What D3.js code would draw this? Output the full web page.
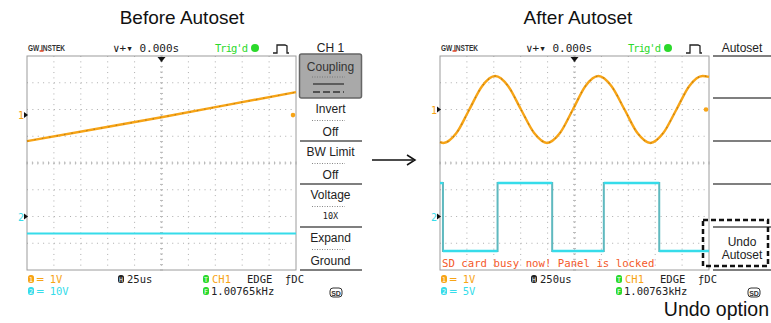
<!DOCTYPE html>
<html>
<head>
<meta charset="utf-8">
<script src="https://cdn.jsdelivr.net/npm/d3@7"></script>
<style>
body { margin: 0; background: #fff; }
text { font-family: "Liberation Sans", Arial, sans-serif; }
.mono { font-family: "DejaVu Sans Mono", monospace; }
</style>
</head>
<body>
<div id="chart"></div>
<script>
var svgWidth = 771;
var svgHeight = 323;

// panel titles
var titles = ["Before Autoset", "After Autoset"];

// traces, x in divisions (0..10), y in divisions relative to channel ground
var beforeCh1 = [[0, -0.97], [2.5, -0.53], [5, -0.08], [7.5, 0.39], [10, 0.86]];
var beforeCh2 = [[0, -0.64], [10, -0.64]];
var afterCh1 = [[0, -1.22], [0.13, -1.25], [0.61, -0.88], [1.09, 0], [1.57, 0.88], [2.05, 1.25],
                [2.53, 0.88], [3.01, 0], [3.5, -0.88], [3.98, -1.25], [4.46, -0.88], [4.94, 0],
                [5.41, 0.88], [5.89, 1.25], [6.37, 0.88], [6.86, 0], [7.34, -0.88], [7.82, -1.25],
                [8.3, -0.88], [8.79, 0], [9.27, 0.88], [9.76, 1.25], [10, 1.22]];
var afterCh2 = [[0, 1.25], [0.11, -1.29], [2.14, 1.25], [4.17, -1.29], [6.09, 1.25], [8.15, -1.29], [10, -1.29]];

// channel ground positions (divisions)
var beforeGround = [1.79, -2];
var afterGround = [2, -2];

// side menus
var beforeMenu = [["Invert", "Off"], ["BW Limit", "Off"], ["Voltage", "10X"], ["Expand", "Ground"]];
var afterMenu = [["", ""], ["", ""], ["", ""], ["", ""], ["Undo", "Autoset"]];

// status bar
var beforeVolts = ["1V", "10V"];
var afterVolts = ["1V", "5V"];
var beforeTime = "25us";
var afterTime = "250us";
var beforeFreq = "1.00765kHz";
var afterFreq = "1.00763kHz";

var orange = "#f7a416";
var cyan = "#36dcea";
var green = "#2bd92b";

var svg = d3.select("#chart")
    .append("svg")
    .attr("width", svgWidth)
    .attr("height", svgHeight);

svg.selectAll(".title")
    .data(titles)
    .enter()
    .append("text")
    .attr("x", (d, i) => i == 0 ? 182 : 578)
    .attr("y", 24)
    .attr("text-anchor", "middle")
    .attr("font-size", 19)
    .attr("fill", "#111")
    .text(d => d);

function drawScope(ox, cfg) {
    var g = svg.append("g").attr("transform", `translate(${ox}, 0)`);
    var x = d3.scaleLinear().domain([0, 10]).range([0, 269]);
    var y = d3.scaleLinear().domain([-4, 4]).range([270, 56]);

    // grid
    g.selectAll(".vg").data(d3.range(1, 10)).enter().append("line")
        .attr("x1", d => x(d)).attr("x2", d => x(d))
        .attr("y1", y(4)).attr("y2", y(-4))
        .attr("stroke", "#adadad").attr("stroke-dasharray", "1 4.35");
    g.selectAll(".hg").data(d3.range(-3, 4)).enter().append("line")
        .attr("x1", x(0)).attr("x2", x(10))
        .attr("y1", d => y(d)).attr("y2", d => y(d))
        .attr("stroke", "#adadad").attr("stroke-dasharray", "1 4.38");
    // center ticks
    g.selectAll(".tx").data(d3.range(0, 10.01, 0.2)).enter().append("line")
        .attr("x1", d => x(d)).attr("x2", d => x(d))
        .attr("y1", y(0) - 1.5).attr("y2", y(0) + 1.5)
        .attr("stroke", "#b8b8b8");
    g.selectAll(".ty").data(d3.range(-4, 4.01, 0.2)).enter().append("line")
        .attr("x1", x(5) - 1.5).attr("x2", x(5) + 1.5)
        .attr("y1", d => y(d)).attr("y2", d => y(d))
        .attr("stroke", "#b8b8b8");
    g.append("rect")
        .attr("x", x(0)).attr("y", y(4))
        .attr("width", x(10) - x(0)).attr("height", y(-4) - y(4))
        .attr("fill", "none").attr("stroke", "#9c9c9c");

    // traces
    var line1 = d3.line()
        .x(d => x(d[0]))
        .y(d => y(d[1] + cfg.ground[0]))
        .curve(cfg.step ? d3.curveMonotoneX : d3.curveLinear);
    g.append("path").attr("d", line1(cfg.ch1))
        .attr("fill", "none").attr("stroke", orange).attr("stroke-width", 2.4);
    g.append("path").attr("d", line1(cfg.ch1))
        .attr("fill", "none").attr("stroke", "#8a5a10").attr("stroke-width", 1.2)
        .attr("stroke-dasharray", "1.5 6").attr("opacity", 0.5);

    var line2 = d3.line()
        .x(d => x(d[0]))
        .y(d => y(d[1] + cfg.ground[1]))
        .curve(cfg.step ? d3.curveStepAfter : d3.curveLinear);
    g.append("path").attr("d", line2(cfg.ch2))
        .attr("fill", "none").attr("stroke", cfg.step ? "#5fb9bf" : cyan).attr("stroke-width", 2);
    if (cfg.step) {
        // brighter flat levels
        var levels = cfg.ch2.slice(0, -1).map((d, i) => [d[0], cfg.ch2[i + 1][0], d[1]]);
        g.selectAll(".lvl").data(levels).enter().append("line")
            .attr("x1", d => x(d[0])).attr("x2", d => x(d[1]))
            .attr("y1", d => y(d[2] + cfg.ground[1])).attr("y2", d => y(d[2] + cfg.ground[1]))
            .attr("stroke", cyan).attr("stroke-width", 2.4);
    }

    // channel markers
    [0, 1].forEach(function(i) {
        var yy = y(cfg.ground[i]);
        g.append("text").attr("class", "mono")
            .attr("x", -9).attr("y", yy + 4)
            .attr("font-size", 10).attr("fill", i == 0 ? orange : cyan)
            .text(i + 1);
        g.append("path")
            .attr("d", `M-3,${yy - 3}L1,${yy}L-3,${yy + 3}Z`)
            .attr("fill", "#111");
    });
    // trigger level dot
    g.append("circle").attr("cx", x(10) - 3).attr("cy", y(cfg.ground[0]))
        .attr("r", 2.3).attr("fill", orange);
    // trigger position
    g.append("path")
        .attr("d", `M${x(5) - 4},57L${x(5) + 4},57L${x(5)},62Z`)
        .attr("fill", "#111");

    // header
    g.append("text").attr("x", 1).attr("y", 51)
        .attr("font-size", 8.5).attr("font-weight", "bold").attr("fill", "#333")
        .attr("textLength", 37).attr("lengthAdjust", "spacingAndGlyphs")
        .text("GW INSTEK");
    g.append("line").attr("x1", 12.5).attr("x2", 16.5).attr("y1", 51).attr("y2", 51)
        .attr("stroke", "#e04020").attr("stroke-width", 1.5);
    g.append("text").attr("class", "mono").attr("x", 86).attr("y", 52)
        .attr("font-size", 11).attr("fill", "#222").text("∨+▾ 0.000s");
    g.append("text").attr("class", "mono").attr("x", 188).attr("y", 52)
        .attr("font-size", 10.5).attr("fill", green)
        .attr("textLength", 33).text("Trig'd");
    g.append("circle").attr("cx", 228).attr("cy", 48).attr("r", 4).attr("fill", green);
    g.append("path")
        .attr("d", "M246,53H250V45H258L260,46V53H262")
        .attr("fill", "none").attr("stroke", "#222").attr("stroke-width", 1.3);

    // side menu
    var mx = 272, mw = cfg.menuWidth, lw = cfg.lineWidth;
    var m = g.append("g").attr("transform", `translate(${mx}, 0)`);
    m.append("text").attr("x", mw / 2).attr("y", 52)
        .attr("text-anchor", "middle").attr("font-size", 12).attr("fill", "#222")
        .text(cfg.menuTitle);
    if (cfg.coupling) {
        m.append("rect").attr("x", 0.5).attr("y", 54).attr("width", mw - 1).attr("height", 44)
            .attr("rx", 2).attr("fill", "#a9a9a9").attr("stroke", "#666").attr("stroke-width", 1.5);
        m.append("text").attr("x", mw / 2).attr("y", 71)
            .attr("text-anchor", "middle").attr("font-size", 12).attr("fill", "#333")
            .text("Coupling");
        m.append("line").attr("x1", 13).attr("x2", 46).attr("y1", 77).attr("y2", 77)
            .attr("stroke", "#777").attr("stroke-dasharray", "1 1.5");
        m.append("line").attr("x1", 14).attr("x2", 45).attr("y1", 84).attr("y2", 84)
            .attr("stroke", "#333").attr("stroke-width", 1.3);
        m.append("line").attr("x1", 14).attr("x2", 45).attr("y1", 92).attr("y2", 92)
            .attr("stroke", "#333").attr("stroke-width", 1.3).attr("stroke-dasharray", "7 3");
    } else {
        m.append("line").attr("x1", 1).attr("x2", lw).attr("y1", 56).attr("y2", 56)
            .attr("stroke", "#555").attr("stroke-width", 1.5);
    }
    var rowH = 43;
    var items = m.selectAll(".item").data(cfg.menu).enter().append("g")
        .attr("transform", (d, i) => `translate(0, ${98 + (cfg.coupling ? i : i - 1) * rowH})`);
    items.append("line").attr("x1", 1).attr("x2", lw).attr("y1", rowH).attr("y2", rowH)
        .attr("stroke", "#555").attr("stroke-width", 1.5);
    items.filter(d => d[0] != "").append("text")
        .attr("x", mw / 2).attr("y", cfg.coupling ? 15 : 19)
        .attr("text-anchor", "middle").attr("font-size", 12).attr("fill", "#222")
        .text(d => d[0]);
    items.filter(d => d[0] != "").append("text")
        .attr("class", d => d[1] == "10X" ? "mono" : null)
        .attr("x", mw / 2).attr("y", d => d[1] == "10X" ? 35 : (cfg.coupling ? 38 : 32))
        .attr("text-anchor", "middle").attr("font-size", d => d[1] == "10X" ? 8.5 : 12).attr("fill", "#222")
        .text(d => d[1]);
    items.filter(d => d[0] != "" && cfg.coupling).append("line")
        .attr("x1", 13).attr("x2", 46).attr("y1", 22.5).attr("y2", 22.5)
        .attr("stroke", "#888").attr("stroke-dasharray", "1 1.5");

    // status bar
    function badge(bx, by, col, label) {
        g.append("rect").attr("x", bx).attr("y", by - 8).attr("width", 6).attr("height", 8)
            .attr("rx", 2.5).attr("fill", col);
        g.append("text").attr("class", "mono").attr("x", bx + 3).attr("y", by - 1.5)
            .attr("text-anchor", "middle").attr("font-size", 6.5).attr("fill", "#fff")
            .text(label);
    }
    var r1 = 283, r2 = 295;
    badge(1, r1, orange, "1");
    badge(1, r2, cyan, "2");
    g.append("text").attr("class", "mono").attr("x", 10).attr("y", r1)
        .attr("font-size", 10.5).attr("fill", orange).text("═ " + cfg.volts[0]);
    g.append("text").attr("class", "mono").attr("x", 10).attr("y", r2)
        .attr("font-size", 10.5).attr("fill", cyan).text("═ " + cfg.volts[1]);
    badge(91, r1, "#222", "H");
    g.append("text").attr("class", "mono").attr("x", 100).attr("y", r1)
        .attr("font-size", 10.5).attr("fill", "#222").text(cfg.time);
    badge(176, r1, green, "T");
    badge(176, r2, green, "F");
    g.append("text").attr("class", "mono").attr("x", 185).attr("y", r1)
        .attr("font-size", 10.5).attr("fill", orange).text("CH1");
    g.append("text").attr("class", "mono").attr("x", 220).attr("y", r1)
        .attr("font-size", 10.5).attr("fill", "#222").text("EDGE");
    g.append("text").attr("class", "mono").attr("x", 258).attr("y", r1)
        .attr("font-size", 10.5).attr("fill", "#222").text("ƒDC");
    g.append("text").attr("class", "mono").attr("x", 184).attr("y", r2)
        .attr("font-size", 10.5).attr("fill", "#222").text(cfg.freq);
    g.append("rect").attr("x", cfg.sdX).attr("y", 288).attr("width", 12).attr("height", 9)
        .attr("rx", 3).attr("fill", "none").attr("stroke", "#333");
    g.append("text").attr("x", cfg.sdX + 6).attr("y", 295.5).attr("text-anchor", "middle")
        .attr("font-size", 7).attr("font-weight", "bold").attr("fill", "#333").text("SD");

    if (cfg.message) {
        g.append("text").attr("class", "mono").attr("x", 2).attr("y", 267)
            .attr("font-size", 10.7).attr("fill", "#f4592a").text(cfg.message);
    }
    return g;
}

drawScope(27, {
    ch1: beforeCh1, ch2: beforeCh2, ground: beforeGround, step: false,
    menu: beforeMenu, menuTitle: "CH 1", coupling: true, menuWidth: 63, lineWidth: 63,
    volts: beforeVolts, time: beforeTime, freq: beforeFreq, sdX: 303
});

drawScope(440, {
    ch1: afterCh1, ch2: afterCh2, ground: afterGround, step: true,
    menu: afterMenu, menuTitle: "Autoset", coupling: false, menuWidth: 60, lineWidth: 70,
    volts: afterVolts, time: afterTime, freq: afterFreq, sdX: 308,
    message: "SD card busy now! Panel is locked"
});

// arrow between the panels
svg.append("line").attr("x1", 372).attr("x2", 413).attr("y1", 160).attr("y2", 160)
    .attr("stroke", "#111").attr("stroke-width", 1.5);
svg.append("path").attr("d", "M407,155L415,160L407,165")
    .attr("fill", "none").attr("stroke", "#111").attr("stroke-width", 1.5);

// undo option highlight
svg.append("rect").attr("x", 703).attr("y", 220).attr("width", 65).attr("height", 46)
    .attr("fill", "none").attr("stroke", "#111").attr("stroke-width", 2.5)
    .attr("stroke-dasharray", "5 3");
svg.append("text").attr("x", 769).attr("y", 316).attr("text-anchor", "end")
    .attr("font-size", 19.5).attr("fill", "#111").text("Undo option");
</script>
</body>
</html>
